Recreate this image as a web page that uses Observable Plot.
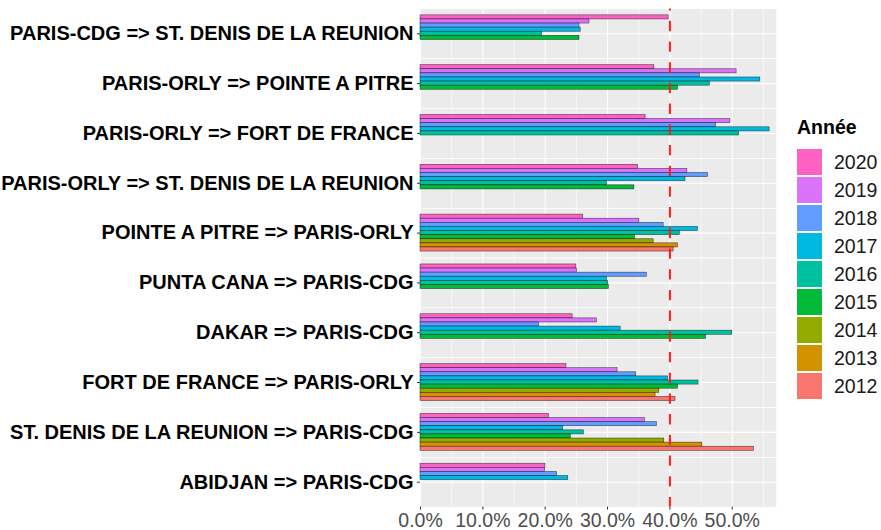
<!DOCTYPE html>
<html><head><meta charset="utf-8">
<script src="https://cdn.jsdelivr.net/npm/d3@7"></script>
<script src="https://cdn.jsdelivr.net/npm/@observablehq/plot@0.6"></script>
<style>
body{margin:0;background:#fff;}
#wrap{position:relative;width:881px;height:530px;font-family:'Liberation Sans',Arial,sans-serif;overflow:hidden;}
#chart{position:absolute;left:0;top:0;}
#overlay{position:absolute;left:0;top:0;pointer-events:none;}
#legtitle{position:absolute;left:797px;top:116px;font-size:19.5px;font-weight:bold;line-height:22px;color:#000;}
#legend{position:absolute;left:797px;top:148px;}
</style></head><body>
<div id="wrap"><div id="chart"></div><div id="overlay"></div><div id="legtitle">Année</div><div id="legend"></div></div>
<script>
// Routes, top to bottom
const routes = [
  "PARIS-CDG => ST. DENIS DE LA REUNION",
  "PARIS-ORLY => POINTE A PITRE",
  "PARIS-ORLY => FORT DE FRANCE",
  "PARIS-ORLY => ST. DENIS DE LA REUNION",
  "POINTE A PITRE => PARIS-ORLY",
  "PUNTA CANA => PARIS-CDG",
  "DAKAR => PARIS-CDG",
  "FORT DE FRANCE => PARIS-ORLY",
  "ST. DENIS DE LA REUNION => PARIS-CDG",
  "ABIDJAN => PARIS-CDG"
];
// Years, top to bottom inside each group
const years = ["2020","2019","2018","2017","2016","2015","2014","2013","2012"];
const yearsAsc = years.slice().reverse();
const colorsAsc = ["#F8766D","#D39200","#93AA00","#00BA38","#00C19F","#00B9E3","#619CFF","#DB72FB","#FF61C3"];

// Values per route, ordered like `years` (null = no bar)
const cdgStDenis     = [0.398,0.271,0.255,0.257,0.195,0.255,null,null,null];
const orlyPointe     = [0.375,0.507,0.448,0.545,0.464,0.413,null,null,null];
const orlyFort       = [0.361,0.497,0.474,0.560,0.511,null,null,null,null];
const orlyStDenis    = [0.349,0.428,0.461,0.425,0.299,0.343,null,null,null];
const pointeOrly     = [0.261,0.351,0.390,0.445,0.416,0.344,0.374,0.413,0.406];
const puntaCdg       = [0.250,0.251,0.363,0.299,0.301,0.302,null,null,null];
const dakarCdg       = [0.244,0.283,0.190,0.321,0.500,0.458,null,null,null];
const fortOrly       = [0.234,0.316,0.346,0.397,0.446,0.413,0.383,0.377,0.409];
const stDenisCdg     = [0.206,0.360,0.379,0.229,0.262,0.241,0.391,0.452,0.535];
const abidjanCdg     = [0.2005,0.200,0.219,0.237,null,null,null,null,null];

const majorTicks = [0,0.1,0.2,0.3,0.4,0.5];
const minorTicks = [0.05,0.15,0.25,0.35,0.45,0.55];
const threshold = [0.4];

const seriesByRoute = [cdgStDenis, orlyPointe, orlyFort, orlyStDenis, pointeOrly, puntaCdg, dakarCdg, fortOrly, stDenisCdg, abidjanCdg];
const data = [];
routes.forEach((route, r) => {
  seriesByRoute[r].forEach((v, i) => {
    if (v != null) data.push({route, year: years[i], value: v});
  });
});

const font = "'Liberation Sans', Arial, sans-serif";
const colorScale = {domain: yearsAsc, range: colorsAsc};
const W = 785, H = 530, ML = 420, MR = 9, MT = 8.4, MB = 23.4;
const xDomain = [0, 0.571];

const chart = Plot.plot({
  width: W, height: H,
  marginLeft: ML, marginRight: MR, marginTop: MT, marginBottom: MB,
  style: {fontFamily: font, fontSize: "19.5px", background: "white", overflow: "visible"},
  x: {domain: xDomain, label: null},
  y: {domain: years, paddingInner: 0, paddingOuter: 1.57, round: false, axis: null, label: null},
  fy: {domain: routes, padding: 0, round: false, label: null},
  color: colorScale,
  marks: [
    Plot.frame({fill: "#EBEBEB"}),
    Plot.gridX({ticks: minorTicks, stroke: "white", strokeOpacity: 1, strokeWidth: 0.55}),
    Plot.gridX({ticks: majorTicks, stroke: "white", strokeOpacity: 1, strokeWidth: 1.1}),
    Plot.frame({stroke: "white", strokeWidth: 0.55}),
    Plot.gridFy({stroke: "white", strokeOpacity: 1, strokeWidth: 1.1}),
    Plot.barX(data, {x: "value", y: "year", fy: "route", fill: "year", stroke: "black", strokeOpacity: 0.65, strokeWidth: 0.6}),
    Plot.axisX({ticks: majorTicks, tickFormat: ".1%", tickSize: 3, tickPadding: 3, fill: "#4D4D4D", stroke: "#333", label: null}),
    Plot.axisFy({anchor: "left", tickSize: 3, tickPadding: 4, fontSize: 20, fontWeight: "bold", fill: "black", stroke: "#333", label: null})
  ]
});
document.getElementById("chart").appendChild(chart);

// Dashed threshold line drawn over the whole panel (same x scale, no facets)
const overlay = Plot.plot({
  width: W, height: H,
  marginLeft: ML, marginRight: MR, marginTop: MT, marginBottom: MB,
  style: {background: "transparent", overflow: "visible"},
  x: {domain: xDomain, axis: null},
  marks: [
    Plot.ruleX(threshold, {stroke: "#FF1A1A", strokeWidth: 2, strokeDasharray: "10.35,10.35", strokeDashoffset: 8.3})
  ]
});
document.getElementById("overlay").appendChild(overlay);

const legend = Plot.plot({
  width: 84, height: 252, margin: 0,
  style: {fontFamily: font, fontSize: "19.5px", background: "transparent", overflow: "visible"},
  x: {type: "band", domain: ["k"], range: [0, 25], padding: 0, axis: null},
  y: {domain: years, range: [0, 252], paddingInner: 0.07, paddingOuter: 0.035, axis: null},
  color: colorScale,
  marks: [
    Plot.cell(years, {x: () => "k", y: d => d, fill: d => d}),
    Plot.text(years, {x: () => "k", y: d => d, text: d => d, dx: 24, textAnchor: "start", fill: "#1A1A1A"})
  ]
});
document.getElementById("legend").appendChild(legend);
</script>
</body></html>
